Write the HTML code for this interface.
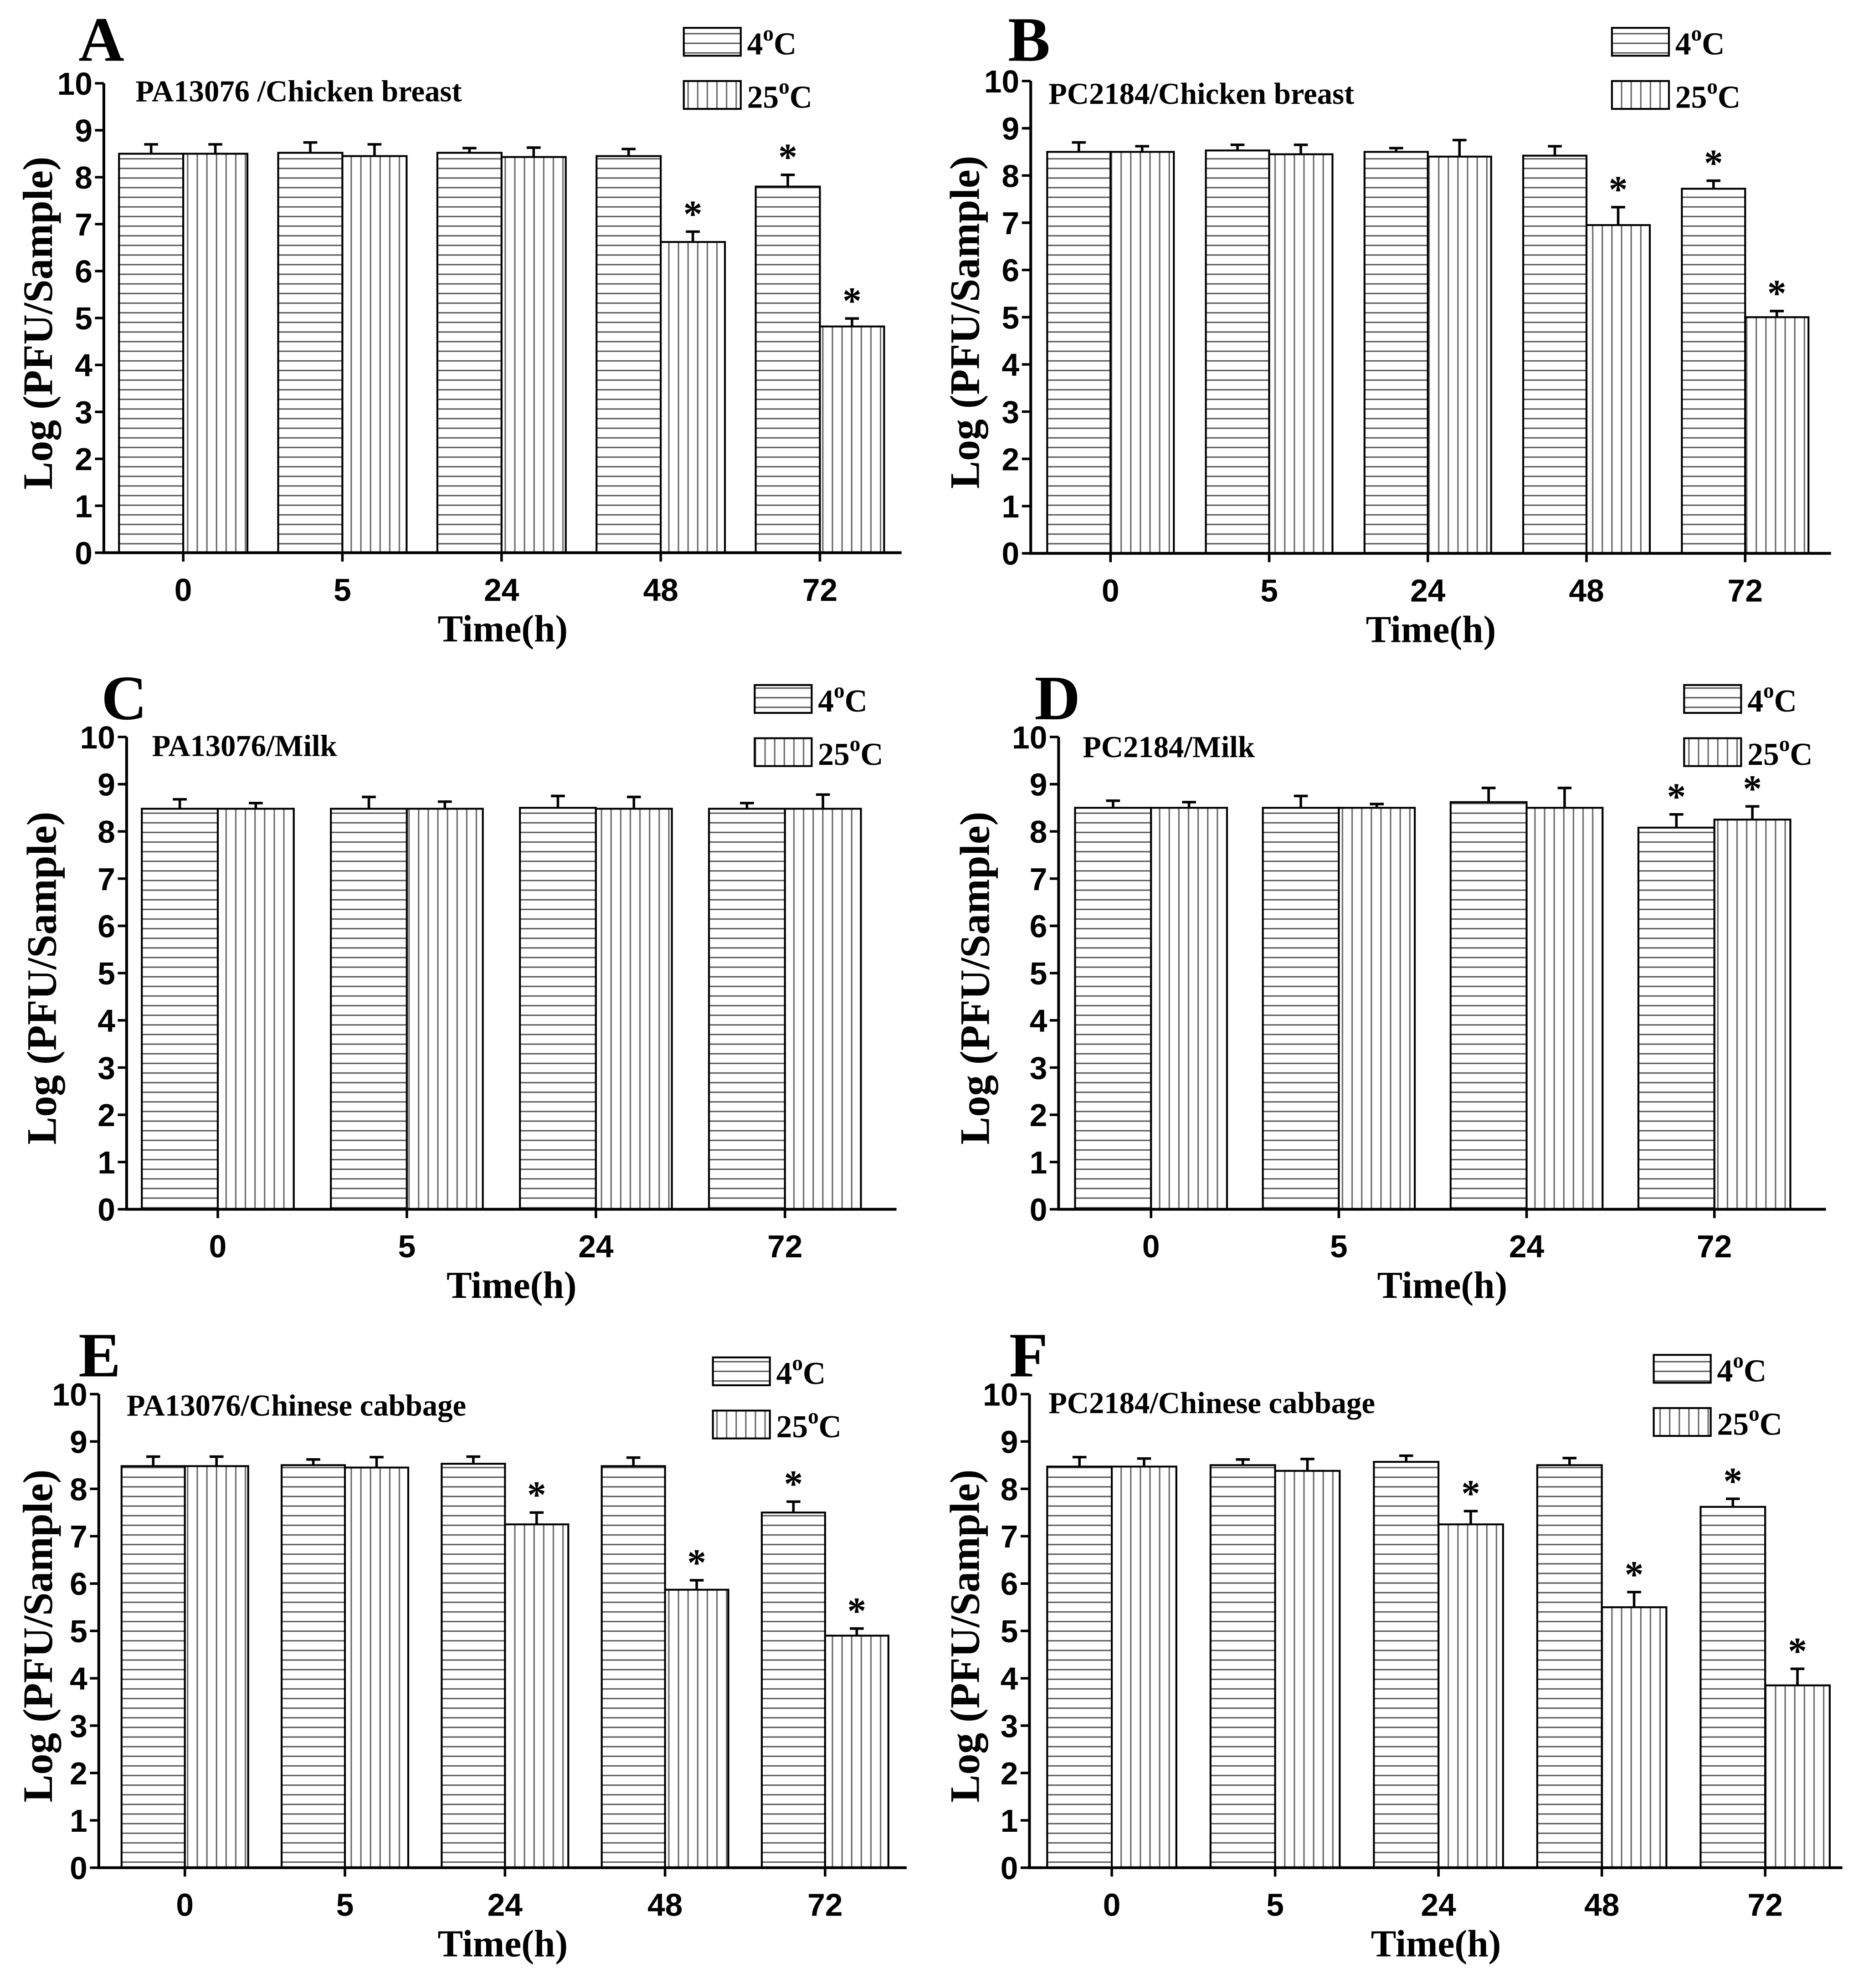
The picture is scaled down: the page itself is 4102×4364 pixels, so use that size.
<!DOCTYPE html>
<html><head><meta charset="utf-8"><style>
html,body{margin:0;padding:0;background:#fff;}
svg{display:block;}
text{font-family:"Liberation Serif",serif;font-weight:bold;fill:#000;}
.tk{font-family:"Liberation Sans",sans-serif;font-size:25px;}
</style></head><body>
<svg id="fig" width="4102" height="4364" viewBox="0 0 1476 1570" preserveAspectRatio="none" xmlns="http://www.w3.org/2000/svg">
<defs>
<pattern id="hh" patternUnits="userSpaceOnUse" width="8" height="7.6"><rect width="8" height="7.6" fill="#fff"/><line x1="0" y1="3.8" x2="8" y2="3.8" stroke="#555" stroke-width="1.1"/></pattern>
<pattern id="vv" patternUnits="userSpaceOnUse" width="7.6" height="8"><rect width="7.6" height="8" fill="#fff"/><line x1="3.8" y1="0" x2="3.8" y2="8" stroke="#666" stroke-width="1.1"/></pattern>
</defs>
</svg>
<script>
const catsA=["0","5","24","48","72"], catsC=["0","5","24","72"];
const yTicks=[0,1,2,3,4,5,6,7,8,9,10];
const a4=[8.5,8.52,8.52,8.45,7.8], a4e=[0.2,0.22,0.1,0.15,0.25], a25=[8.5,8.45,8.43,6.62,4.82], a25e=[0.2,0.25,0.2,0.22,0.17];
const a4s=[0,0,0,0,1], a25s=[0,0,0,1,1];
const b4=[8.5,8.53,8.5,8.42,7.72], b4e=[0.2,0.12,0.08,0.2,0.17], b25=[8.5,8.45,8.4,6.95,5.0], b25e=[0.12,0.2,0.35,0.38,0.13];
const b4s=[0,0,0,0,1], b25s=[0,0,0,1,1];
const c4=[8.48,8.48,8.5,8.48], c4e=[0.2,0.25,0.25,0.12], c25=[8.48,8.48,8.48,8.48], c25e=[0.12,0.15,0.25,0.3];
const c4s=[0,0,0,0], c25s=[0,0,0,0];
const d4=[8.5,8.5,8.62,8.08], d4e=[0.15,0.25,0.3,0.28], d25=[8.5,8.5,8.5,8.25], d25e=[0.12,0.08,0.42,0.28];
const d4s=[0,0,0,1], d25s=[0,0,0,1];
const e4=[8.48,8.5,8.53,8.48,7.5], e4e=[0.2,0.12,0.15,0.18,0.23], e25=[8.48,8.45,7.25,5.87,4.9], e25e=[0.2,0.22,0.25,0.2,0.15];
const e4s=[0,0,0,0,1], e25s=[0,0,1,1,1];
const f4=[8.47,8.5,8.57,8.5,7.62], f4e=[0.2,0.12,0.13,0.15,0.17], f25=[8.47,8.38,7.25,5.5,3.85], f25e=[0.17,0.25,0.28,0.32,0.35];
const f4s=[0,0,0,0,1], f25s=[0,0,1,1,1];

const svg=document.getElementById('fig');
const NS="http://www.w3.org/2000/svg";
function mk(tag,attrs,parent){const e=document.createElementNS(NS,tag);for(const k in attrs)e.setAttribute(k,attrs[k]);(parent||svg).appendChild(e);return e;}

const panels=[
 {id:"a",L:"A",lx:62,ly:48,sub:"PA13076 /Chicken breast",sx:107,sy:80,ax:82,right:712,y0:436.5,y10:65.8,c0:144.7,dc:125.7,w:50.7,cats:catsA,v4:a4,e4:a4e,v25:a25,e25:a25e,s4:a4s,s25:a25s,legx:540,legy:22,tx:30},
 {id:"b",L:"B",lx:796,ly:48,sub:"PC2184/Chicken breast",sx:828,sy:82,ax:814,right:1446,y0:437,y10:64,c0:877,dc:125.3,w:50,cats:catsA,v4:b4,e4:b4e,v25:b25,e25:b25e,s4:b4s,s25:b25s,legx:1273,legy:22,tx:762},
 {id:"c",L:"C",lx:80,ly:568,sub:"PA13076/Milk",sx:120,sy:597,ax:100,right:708,y0:955,y10:582,c0:172,dc:149.3,w:60,cats:catsC,v4:c4,e4:c4e,v25:c25,e25:c25e,s4:c4s,s25:c25s,legx:596,legy:541,tx:33},
 {id:"d",L:"D",lx:817,ly:568,sub:"PC2184/Milk",sx:855,sy:598,ax:836,right:1442,y0:955,y10:582,c0:909,dc:148.3,w:60,cats:catsC,v4:d4,e4:d4e,v25:d25,e25:d25e,s4:d4s,s25:d25s,legx:1330,legy:541,tx:770},
 {id:"e",L:"E",lx:62,ly:1087,sub:"PA13076/Chinese cabbage",sx:100,sy:1118,ax:78,right:716,y0:1475,y10:1101,c0:146,dc:126.4,w:50,cats:catsA,v4:e4,e4:e4e,v25:e25,e25:e25e,s4:e4s,s25:e25s,legx:563,legy:1072,tx:30},
 {id:"f",L:"F",lx:797,ly:1087,sub:"PC2184/Chinese cabbage",sx:828,sy:1116,ax:813,right:1455,y0:1475,y10:1101,c0:878,dc:129,w:51,cats:catsA,v4:f4,e4:f4e,v25:f25,e25:f25e,s4:f4s,s25:f25s,legx:1306,legy:1070,tx:762}
];

panels.forEach(p=>{
  const g=mk('g',{});
  
  
  const Y=v=>p.y0-(p.y0-p.y10)*v/10;
  const X=i=>p.c0+p.dc*i;
  let t=mk('text',{x:p.lx,y:p.ly,'font-size':50},g);t.textContent=p.L;
  
  t=mk('text',{x:p.sx,y:p.sy,'font-size':24},g);t.textContent=p.sub;
  
  p.cats.forEach((c,i)=>{
    [[p.v4,p.e4,p.s4,'hh',-p.w,'4c'],[p.v25,p.e25,p.s25,'vv',0,'25c']].forEach(s=>{
      const v=s[0][i],e=s[1][i],x=X(i)+s[4];
      const r=mk('rect',{x:x,y:Y(v),width:p.w,height:p.y0-Y(v),fill:'url(#'+s[3]+')',stroke:'#000','stroke-width':1.5},g);
      
      const cx=x+p.w/2;
      const eb=mk('path',{d:`M${cx},${Y(v)}V${Y(v+e)}M${cx-5.5},${Y(v+e)}H${cx+5.5}`,stroke:'#000','stroke-width':2,fill:'none'},g);
      
      if(s[2][i]){const st=mk('text',{x:cx,y:Y(v+e)-4,'font-size':30,'text-anchor':'middle'},g);st.textContent='*';
        }
    });
    const tk=mk('line',{x1:X(i),y1:p.y0,x2:X(i),y2:p.y0+7,stroke:'#000','stroke-width':2},g);
    
    const tl=mk('text',{x:X(i),y:p.y0+38,'text-anchor':'middle',class:'tk'},g);tl.textContent=c;
    
  });
  const ya=mk('line',{x1:p.ax,y1:p.y10,x2:p.ax,y2:p.y0+1,stroke:'#000','stroke-width':2.2},g);
  
  const xa=mk('line',{x1:p.ax-1,y1:p.y0,x2:p.right,y2:p.y0,stroke:'#000','stroke-width':2.2},g);
  
  yTicks.forEach(v=>{
    const l=mk('line',{x1:p.ax-7,y1:Y(v),x2:p.ax,y2:Y(v),stroke:'#000','stroke-width':2},g);
    
    const tl=mk('text',{x:p.ax-9,y:Y(v)+9,'text-anchor':'end',class:'tk'},g);tl.textContent=v;
    
  });
  const yc=(p.y0+p.y10)/2+4, yx=p.tx+11;
  t=mk('text',{x:yx,y:yc,'font-size':33,'text-anchor':'middle',transform:`rotate(-90 ${yx} ${yc})`},g);t.textContent='Log (PFU/Sample)';
  
  t=mk('text',{x:(p.ax+p.right)/2,y:p.y0+70,'font-size':30,'text-anchor':'middle'},g);t.textContent='Time(h)';
  
  [['hh','4','legend-4c'],['vv','25','legend-25c']].forEach((L,k)=>{
    const ly=p.legy+k*42;
    const b=mk('rect',{x:p.legx,y:ly,width:45,height:22,fill:'url(#'+L[0]+')',stroke:'#000','stroke-width':1.5},g);
    
    const lt=mk('text',{x:p.legx+50,y:ly+21,'font-size':25},g);
    
    lt.innerHTML=L[1]+'<tspan dy="-11" font-size="17">o</tspan><tspan dy="11">C</tspan>';
  });
});
</script>
</body></html>
